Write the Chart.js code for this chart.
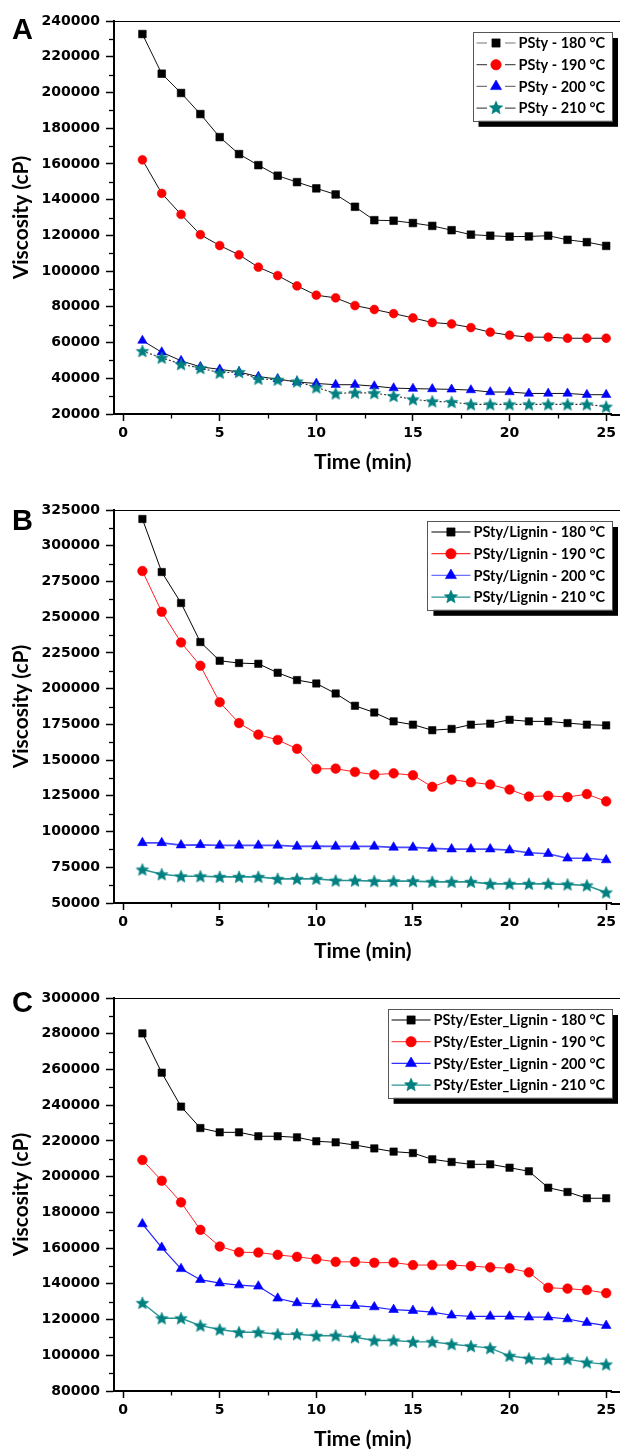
<!DOCTYPE html>
<html><head><meta charset="utf-8">
<script src="https://cdn.jsdelivr.net/npm/chart.js@4.4.1/dist/chart.umd.min.js"></script>
<style>
html,body{margin:0;padding:0;background:#fff;width:620px;height:1452px;overflow:hidden;}
.panel{position:absolute;left:0;width:620px;height:489px;}
canvas{display:block;}
</style></head><body>
<div class="panel" style="top:0px"><canvas id="cA" width="620" height="489"></canvas></div>
<div class="panel" style="top:489px"><canvas id="cB" width="620" height="489"></canvas></div>
<div class="panel" style="top:977px"><canvas id="cC" width="620" height="489"></canvas></div>
<script>
// ---------- data ----------
const times = [1,2,3,4,5,6,7,8,9,10,11,12,13,14,15,16,17,18,19,20,21,22,23,24,25];
const temps = ['180 °C','190 °C','200 °C','210 °C'];
const xTicks = [0,5,10,15,20,25];

const yTicksA = [20000,40000,60000,80000,100000,120000,140000,160000,180000,200000,220000,240000];
const yTicksB = [50000,75000,100000,125000,150000,175000,200000,225000,250000,275000,300000,325000];
const yTicksC = [80000,100000,120000,140000,160000,180000,200000,220000,240000,260000,280000,300000];

const psty180 = [232700,210500,199700,187900,175000,165500,159300,153400,149800,146300,142900,136000,128500,128200,126900,125300,122900,120400,119800,119300,119400,119800,117500,116200,114100];
const psty190 = [162300,143500,131700,120400,114300,109100,102200,97500,91700,86500,85000,80700,78500,76200,73800,71200,70400,68400,65800,64100,63000,63000,62400,62400,62400];
const psty200 = [61100,54600,49800,46400,45000,43500,40900,39600,37900,37100,36400,36400,35600,34500,34200,34000,33800,33400,32300,32300,31500,31500,31500,30800,30800];
const psty210 = [55200,51500,47900,45700,43100,43500,39700,39200,38200,34900,31500,31900,31700,30100,28200,27100,26700,25400,25400,25400,25400,25400,25400,25400,24100];

const lig180 = [318700,281600,259900,232600,219500,217900,217400,211100,206000,203600,196600,188000,183300,177100,174800,170900,171800,174800,175500,178200,177100,177100,175900,174800,174300];
const lig190 = [282300,253800,232300,216000,190500,175900,167800,164100,157900,143800,144000,141700,139800,140700,139400,131300,136300,134500,132900,129400,124500,125000,124100,126200,121100];
const lig200 = [92100,92100,90500,90700,90300,90300,90300,90300,89600,89800,89600,89600,89600,88900,88900,88200,87700,87700,87700,87000,85200,84500,81300,81300,80100];
const lig210 = [73400,70100,68700,68700,68300,68300,68300,66900,66900,66900,65700,65700,65300,65300,65300,64800,64800,64800,63400,63400,63400,63400,63000,62300,57400];

const est180 = [280200,258200,239200,227200,224800,224800,222600,222600,222000,219800,219200,217700,215800,214000,213200,209700,208200,206900,206900,205000,203000,193800,191400,187900,187900];
const est190 = [209300,197700,185600,170200,160900,157700,157500,156200,155100,153800,152300,152300,151800,151900,150500,150500,150500,149900,149200,148700,146400,137800,137300,136500,134800];
const est200 = [173500,160300,148400,142300,140400,139300,138600,131900,129300,128700,128100,127800,127000,125500,125000,124200,122400,121800,121800,121800,121300,121300,120300,118300,116600];
const est210 = [129300,120700,120700,116600,114400,112900,112900,111800,111800,110900,111000,110100,108300,108300,107500,107500,106200,105100,104000,99700,98200,97800,97800,96000,94900];

// ---------- styling helpers ----------
Chart.defaults.color = '#000';
Chart.defaults.font.family = 'DejaVu Sans';
const TICK_FONT = {family:'DejaVu Sans', weight:'bold', size:14};
const TITLE_FONT = {family:'Lato', weight:'bold', size:21};
const LEGEND_FONT = 'bold 14.5px Lato';
const COLORS = ['#000000','#ff0000','#0000ff','#008080'];
const STYLES = ['rect','circle','triangle','star'];

function drawMarker(ctx, style, x, y, r, color) {
  ctx.save();
  ctx.fillStyle = color; ctx.strokeStyle = color; ctx.lineWidth = 0.6;
  ctx.beginPath();
  if (style === 'rect') {
    const s = r * Math.SQRT1_2;
    ctx.rect(x - s, y - s, 2 * s, 2 * s);
  } else if (style === 'circle') {
    ctx.arc(x, y, r, 0, Math.PI * 2);
  } else if (style === 'triangle') {
    ctx.moveTo(x, y - r);
    ctx.lineTo(x + r * Math.sin(Math.PI / 3), y + r * 0.5);
    ctx.lineTo(x - r * Math.sin(Math.PI / 3), y + r * 0.5);
    ctx.closePath();
  } else {
    const inner = r * 0.45;
    for (let i = 0; i < 10; i++) {
      const rad = i % 2 === 0 ? r : inner;
      const a = -Math.PI / 2 + i * Math.PI / 5;
      const px = x + rad * Math.cos(a), py = y + rad * Math.sin(a);
      if (i === 0) ctx.moveTo(px, py); else ctx.lineTo(px, py);
    }
    ctx.closePath();
  }
  ctx.fill(); ctx.stroke();
  ctx.restore();
}
function starImage(r, color) {
  const c = document.createElement('canvas');
  const sz = Math.ceil(r * 2 + 2);
  c.width = sz; c.height = sz;
  drawMarker(c.getContext('2d'), 'star', sz / 2, sz / 2 + r * 0.08, r, color);
  return c;
}
const STAR_IMG = starImage(6.6, COLORS[3]);

const sizes = {A:[5.4,4.4,5.4,6.6], B:[5.2,4.8,5.6,6.6], C:[5.2,4.8,5.6,6.6]};

function makeDatasets(material, series, lineColors, lineWidths, dashes, sz) {
  return series.map((vals, i) => ({
    label: material + ' - ' + temps[i],
    data: times.map((t, k) => ({x: t, y: vals[k]})),
    borderColor: lineColors[i],
    borderWidth: lineWidths[i],
    borderDash: dashes[i],
    pointStyle: i === 3 ? STAR_IMG : STYLES[i],
    markerStyle: STYLES[i],
    markerColor: COLORS[i],
    pointRadius: sz[i],
    pointHoverRadius: sz[i],
    pointBackgroundColor: COLORS[i],
    pointBorderColor: COLORS[i],
    pointBorderWidth: 0.6,
    tension: 0,
    clip: false,
    order: 3 - i
  }));
}

const framePlugin = {
  id: 'frameTicks',
  afterDraw(chart) {
    const {ctx, chartArea: ca} = chart;
    const x = chart.scales.x, y = chart.scales.y;
    ctx.save();
    ctx.strokeStyle = '#000';
    // top frame line across to the image edge
    ctx.lineWidth = 1.2;
    ctx.beginPath(); ctx.moveTo(ca.left, ca.top + 0.5); ctx.lineTo(chart.width, ca.top + 0.5); ctx.stroke();
    // bottom axis continues to the image edge
    ctx.lineWidth = 2;
    ctx.beginPath(); ctx.moveTo(ca.right - 1, ca.bottom + 1); ctx.lineTo(chart.width, ca.bottom + 1); ctx.stroke();
    ctx.lineWidth = 1.3;
    const yt = y.ticks.map(t => t.value);
    for (let i = 0; i < yt.length - 1; i++) {
      const py = Math.round(y.getPixelForValue((yt[i] + yt[i + 1]) / 2)) + 0.5;
      ctx.beginPath(); ctx.moveTo(ca.left - 5, py); ctx.lineTo(ca.left, py); ctx.stroke();
    }
    const xt = x.ticks.map(t => t.value);
    for (let i = 0; i < xt.length - 1; i++) {
      const px = Math.round(x.getPixelForValue((xt[i] + xt[i + 1]) / 2)) + 0.5;
      ctx.beginPath(); ctx.moveTo(px, ca.bottom); ctx.lineTo(px, ca.bottom + 4.5); ctx.stroke();
    }
    // panel letter
    const o = chart.options.plugins.boxLegend;
    ctx.fillStyle = '#000';
    ctx.font = 'bold 29px "Liberation Sans"';
    ctx.textBaseline = 'alphabetic';
    ctx.textAlign = 'left';
    ctx.fillText(o.letter, 12, o.letterY);
    ctx.restore();
  }
};

const legendPlugin = {
  id: 'boxLegend',
  afterDraw(chart, args, o) {
    const {ctx, chartArea: ca} = chart;
    const ds = chart.data.datasets;
    ctx.save();
    ctx.font = LEGEND_FONT;
    const tw = Math.max(...ds.map(d => ctx.measureText(d.label).width));
    const rowH = 21.7, padL = 4, lineLen = 39, gap = 3, padR = 7;
    const w = padL + lineLen + gap + tw + padR;
    const h = rowH * ds.length + 2;
    const right = chart.width - 8, top = ca.top + 11;
    const left = right - w;
    ctx.fillStyle = '#000';
    ctx.fillRect(left + 6, top + 6, w, h);
    ctx.fillStyle = '#fff';
    ctx.fillRect(left, top, w, h);
    ctx.strokeStyle = '#555'; ctx.lineWidth = 1;
    ctx.strokeRect(Math.round(left) + 0.5, Math.round(top) + 0.5, Math.round(w), Math.round(h));
    ds.forEach((d, i) => {
      const cy = top + 11 + i * rowH;
      const mx = left + padL + lineLen / 2;
      ctx.strokeStyle = o.lineColors[i];
      ctx.lineWidth = 1.2;
      ctx.beginPath();
      if (o.gapLines) {
        ctx.moveTo(left + padL, cy); ctx.lineTo(mx - 9, cy);
        ctx.moveTo(mx + 9, cy); ctx.lineTo(left + padL + lineLen, cy);
      } else {
        ctx.moveTo(left + padL, cy); ctx.lineTo(left + padL + lineLen, cy);
      }
      ctx.stroke();
      const r = [5.8, 5.2, 6.4, 7.0][i];
      drawMarker(ctx, d.markerStyle, mx, cy, r, d.markerColor);
      ctx.fillStyle = '#000';
      ctx.textAlign = 'left';
      ctx.textBaseline = 'middle';
      ctx.fillText(d.label, left + padL + lineLen + gap, cy + 0.5);
    });
    ctx.restore();
  }
};

function makeChart(id, datasets, yTicks, yMin, yMax, legendOpts) {
  return new Chart(document.getElementById(id), {
    type: 'line',
    data: {datasets},
    options: {
      responsive: false,
      animation: false,
      devicePixelRatio: 1,
      layout: {padding: {top: 21, right: 0, left: 0, bottom: 0}},
      plugins: {legend: {display: false}, tooltip: {enabled: false}, boxLegend: legendOpts},
      scales: {
        x: {
          type: 'linear', min: -0.47, max: 25.28,
          afterBuildTicks: s => { s.ticks = xTicks.map(v => ({value: v})); },
          afterFit: s => { s.height = 75; },
          grid: {drawOnChartArea: false, drawTicks: true, tickLength: 7, tickWidth: 1.5, tickColor: '#000'},
          border: {display: true, color: '#000', width: 2},
          ticks: {font: TICK_FONT, color: '#000', padding: 4, maxRotation: 0, autoSkip: false, callback: v => String(v)},
          title: {display: true, text: 'Time (min)', font: TITLE_FONT, color: '#000', padding: {top: 0, bottom: 14}}
        },
        y: {
          type: 'linear', min: yMin, max: yMax,
          afterBuildTicks: s => { s.ticks = yTicks.map(v => ({value: v})); },
          afterFit: s => { s.width = 114; },
          grid: {drawOnChartArea: false, drawTicks: true, tickLength: 8, tickWidth: 1.5, tickColor: '#000'},
          border: {display: true, color: '#000', width: 2},
          ticks: {font: TICK_FONT, color: '#000', padding: 6, autoSkip: false, callback: v => String(v)},
          title: {display: true, text: 'Viscosity (cP)', font: TITLE_FONT, color: '#000', padding: {top: 9, bottom: 0}}
        }
      }
    },
    plugins: [framePlugin, legendPlugin]
  });
}

makeChart('cA',
  makeDatasets('PSty', [psty180, psty190, psty200, psty210],
    ['#111', '#111', '#111', '#333'], [1, 1, 1, 1.1], [[], [], [], [2, 2]], sizes.A),
  yTicksA, yTicksA[0], yTicksA[yTicksA.length - 1],
  {letter: 'A', letterY: 39, gapLines: true, lineColors: ['#777', '#555', '#777', '#555']});

makeChart('cB',
  makeDatasets('PSty/Lignin', [lig180, lig190, lig200, lig210],
    ['#000', '#ff2020', '#4a4aff', '#2a9494'], [1, 1, 1.6, 1.6], [[], [], [], []], sizes.B),
  yTicksB, yTicksB[0], yTicksB[yTicksB.length - 1],
  {letter: 'B', letterY: 41, gapLines: false, lineColors: ['#000', '#ff3030', '#7070ff', '#2a9494']});

makeChart('cC',
  makeDatasets('PSty/Ester_Lignin', [est180, est190, est200, est210],
    ['#000', '#ff2020', '#2020ff', '#2a9494'], [1, 1, 1.2, 1.4], [[], [], [], []], sizes.C),
  yTicksC, yTicksC[0], yTicksC[yTicksC.length - 1],
  {letter: 'C', letterY: 35, gapLines: false, lineColors: ['#000', '#ff5050', '#3030ff', '#2a9494']});
</script>
</body></html>
